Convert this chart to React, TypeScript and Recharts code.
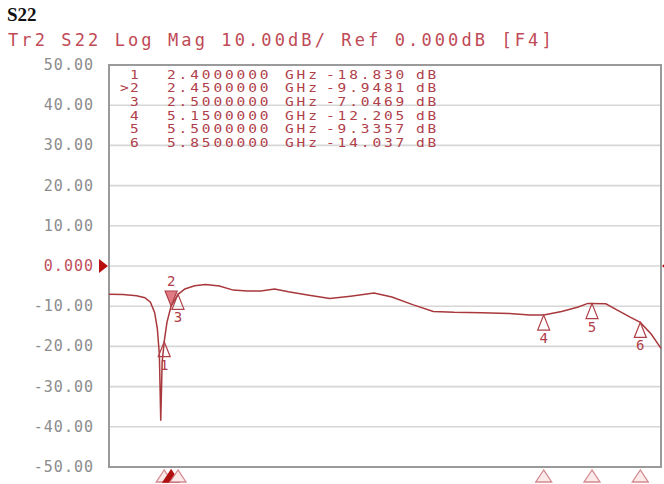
import {
  CartesianGrid,
  ComposedChart,
  Line,
  ReferenceArea,
  ReferenceDot,
  Scatter,
  XAxis,
  YAxis,
} from 'recharts'

const title = 'S22'
const traceLabel = 'Tr2 S22 Log Mag 10.00dB/ Ref 0.000dB [F4]'

// trace (GHz / dB)
const freqGHz = [
  2.0, 2.1, 2.2, 2.26, 2.3, 2.33, 2.35, 2.365, 2.375, 2.385, 2.4, 2.42, 2.45, 2.5,
  2.55, 2.62, 2.7, 2.8, 2.9, 3.0, 3.1, 3.2, 3.3, 3.45, 3.6, 3.75, 3.92, 4.05, 4.2,
  4.35, 4.5, 4.7, 4.9, 5.05, 5.15, 5.28, 5.4, 5.47, 5.6, 5.7, 5.78, 5.85, 5.93, 6.0,
]
const s22Db = [
  -7.0, -7.1, -7.4, -7.9, -9.0, -11.5, -15.5, -22.0, -38.5, -24.0, -18.83, -14.0,
  -9.95, -7.05, -5.7, -4.9, -4.6, -5.0, -6.0, -6.2, -6.2, -5.7, -6.4, -7.3, -8.1,
  -7.5, -6.7, -7.7, -9.6, -11.3, -11.5, -11.6, -11.8, -12.2, -12.2, -11.3, -10.2,
  -9.3, -9.4, -11.3, -12.8, -14.04, -17.0, -20.5,
]

const markerIds = ['1', '2', '3', '4', '5', '6']
const markerFreqGHz = [2.4, 2.45, 2.5, 5.15, 5.5, 5.85]
const markerDb = [-18.83, -9.9481, -7.0469, -12.205, -9.3357, -14.037]
const activeMarker = '2'

const yTicks = [50, 40, 30, 20, 10, 0, -10, -20, -30, -40, -50]
const xGrid = [2.0, 2.4, 2.8, 3.2, 3.6, 4.0, 4.4, 4.8, 5.2, 5.6, 6.0]
const refLevel = 0

const traceRows = freqGHz.map((f, i) => ({ f, db: s22Db[i] }))
const markerRows = markerIds.map((id, i) => ({ id, f: markerFreqGHz[i], db: markerDb[i] }))
const bottomRows = markerIds.map((id, i) => ({ id, f: markerFreqGHz[i], db: -50 }))

const RED = '#b0404a'
const MONO = '"DejaVu Sans Mono", "Liberation Mono", monospace'

function YTick({ x, y, payload }: any) {
  const v = payload.value as number
  const isRef = v === refLevel
  return (
    <text
      x={x}
      y={y}
      dy={5}
      textAnchor="end"
      fill={isRef ? '#c0505c' : '#8c8c8c'}
      style={{ fontFamily: MONO, fontSize: 15, letterSpacing: 1 }}
    >
      {isRef ? '0.000' : v.toFixed(2)}
    </text>
  )
}

function TraceMarker({ cx, cy, payload }: any) {
  if (payload.id === activeMarker) {
    return (
      <g>
        <polygon
          points={`${cx},${cy} ${cx - 6},${cy - 15} ${cx + 6},${cy - 15}`}
          fill="#e07a84"
          stroke={RED}
          strokeWidth={1.2}
        />
        <text x={cx} y={cy - 20} textAnchor="middle" fill={RED} style={{ fontFamily: MONO, fontSize: 14 }}>
          {payload.id}
        </text>
      </g>
    )
  }
  return (
    <g>
      <polygon
        points={`${cx},${cy} ${cx - 6},${cy + 15} ${cx + 6},${cy + 15}`}
        fill="none"
        stroke={RED}
        strokeWidth={1.2}
      />
      <text x={cx} y={cy + 28} textAnchor="middle" fill={RED} style={{ fontFamily: MONO, fontSize: 14 }}>
        {payload.id}
      </text>
    </g>
  )
}

function BottomMarker({ cx, cy, payload }: any) {
  const active = payload.id === activeMarker
  return (
    <polygon
      points={`${cx},${cy + 3} ${cx - 8},${cy + 15} ${cx + 8},${cy + 15}`}
      fill={active ? '#b01010' : '#fbeaea'}
      stroke={active ? '#b01010' : '#d48a90'}
      strokeWidth={1.3}
    />
  )
}

function RefLeft({ cx, cy }: any) {
  return <polygon points={`${cx - 10},${cy - 7} ${cx - 1},${cy} ${cx - 10},${cy + 7}`} fill="#b80e0e" />
}

function RefRight({ cx, cy }: any) {
  return <polygon points={`${cx + 9},${cy - 7} ${cx + 1},${cy} ${cx + 9},${cy + 7}`} fill="#b80e0e" />
}

function MarkerTable() {
  return (
    <div style={{ position: 'absolute', left: 0, top: 0 }}>
      {markerRows.map((m, i) => {
        const top = 68.5 + i * 13.7
        const cell = {
          position: 'absolute' as const,
          top,
          fontFamily: MONO,
          fontSize: 11.6,
          lineHeight: '13px',
          letterSpacing: 2.3,
          color: RED,
          whiteSpace: 'pre' as const,
          transform: 'scaleX(1.25)',
          transformOrigin: 'left center',
        }
        return (
          <div key={m.id}>
            <span style={{ ...cell, left: 110, width: 24, textAlign: 'right', letterSpacing: 1 }}>
              {m.id === activeMarker ? '>' + m.id : m.id}
            </span>
            <span style={{ ...cell, left: 167 }}>{m.f.toFixed(7)}</span>
            <span style={{ ...cell, left: 285 }}>GHz</span>
            <span style={{ ...cell, left: 326 }}>{m.db.toPrecision(5)}</span>
            <span style={{ ...cell, left: 416 }}>dB</span>
          </div>
        )
      })}
    </div>
  )
}

export default function App() {
  return (
    <div
      style={{
        position: 'absolute',
        left: 0,
        top: 0,
        width: 664,
        height: 484,
        background: '#ffffff',
        overflow: 'hidden',
      }}
    >
      <div
        style={{
          position: 'absolute',
          left: 7,
          top: 4,
          fontFamily: '"Liberation Serif", serif',
          fontWeight: 'bold',
          fontSize: 19,
          color: '#111',
        }}
      >
        {title}
      </div>
      <div
        style={{
          position: 'absolute',
          left: 8,
          top: 30,
          fontFamily: MONO,
          fontSize: 17,
          letterSpacing: 3.1,
          color: '#c04a56',
          whiteSpace: 'pre',
        }}
      >
        {traceLabel}
      </div>
      <div style={{ position: 'absolute', left: 0, top: 0 }}>
        <ComposedChart width={664} height={484} margin={{ top: 65, right: 3, bottom: 17, left: 9 }}>
          <CartesianGrid stroke="#d6d6d6" strokeWidth={1.6} verticalValues={xGrid} horizontalValues={yTicks} />
          <XAxis
            type="number"
            dataKey="f"
            domain={[2, 6]}
            ticks={xGrid}
            tick={false}
            tickLine={false}
            axisLine={false}
            height={0}
          />
          <YAxis
            type="number"
            domain={[-50, 50]}
            ticks={yTicks}
            tick={<YTick />}
            tickLine={false}
            tickSize={0}
            tickMargin={15}
            axisLine={false}
            width={100}
            interval={0}
          />
          <ReferenceArea x1={2} x2={6} y1={-50} y2={50} fill="none" stroke="#9a9a9a" strokeWidth={2} />
          <Line
            data={traceRows}
            dataKey="db"
            type="linear"
            stroke="#a8383c"
            strokeWidth={1.5}
            dot={false}
            activeDot={false}
            isAnimationActive={false}
          />
          <Scatter data={markerRows} dataKey="db" shape={<TraceMarker />} isAnimationActive={false} />
          <Scatter data={bottomRows} dataKey="db" shape={<BottomMarker />} isAnimationActive={false} />
          <ReferenceDot x={2} y={refLevel} r={0} shape={<RefLeft />} />
          <ReferenceDot x={6} y={refLevel} r={0} shape={<RefRight />} />
        </ComposedChart>
      </div>
      <MarkerTable />
    </div>
  )
}
